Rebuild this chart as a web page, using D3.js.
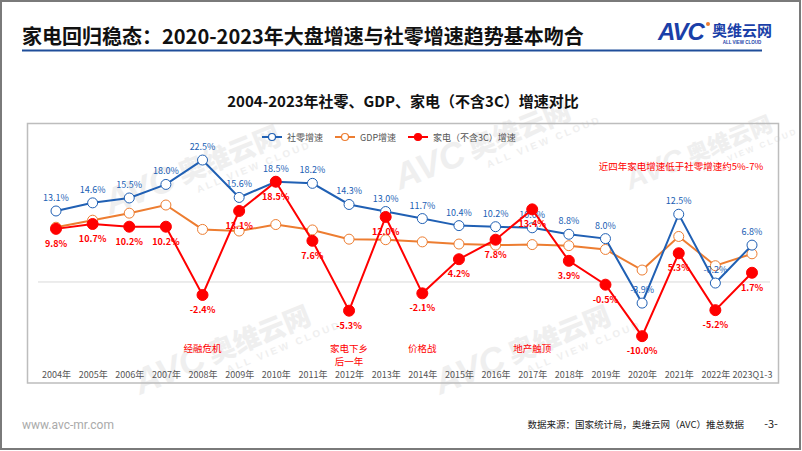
<!DOCTYPE html>
<html><head><meta charset="utf-8">
<script src="https://cdn.jsdelivr.net/npm/d3@7/dist/d3.min.js"></script>
<style>
html,body{margin:0;padding:0;background:#fff;}
svg{display:block;font-family:"Noto Sans CJK SC","Noto Sans",sans-serif;}
</style></head><body>
<svg id="c" width="802" height="451"></svg>
<script>
const categories = ["2004年","2005年","2006年","2007年","2008年","2009年","2010年","2011年","2012年","2013年","2014年","2015年","2016年","2017年","2018年","2019年","2020年","2021年","2022年","2023Q1-3"];
const retail = [13.1,14.6,15.5,18.0,22.5,15.6,18.5,18.2,14.3,13.0,11.7,10.4,10.2,10.0,8.8,8.0,-3.9,12.5,-0.2,6.8];
const gdp = [10.1,11.4,12.7,14.2,9.7,9.4,10.6,9.6,7.9,7.8,7.4,7.0,6.8,6.9,6.7,6.0,2.2,8.4,3.0,5.2];
const appliance = [9.8,10.7,10.2,10.2,-2.4,13.1,18.5,7.6,-5.3,12.0,-2.1,4.2,7.8,13.4,3.9,-0.5,-10.0,5.3,-5.2,1.7];
const seriesNames = ["社零增速","GDP增速","家电（不含3C）增速"];
const events = [["2008年",["经融危机"]],["2012年",["家电下乡","后一年"]],["2014年",["价格战"]],["2017年",["地产触顶"]]];

const BLUE="#2060b4", ORANGE="#ed7d31", RED="#ff0000";
const svg=d3.select("#c");

// page frame
svg.append("rect").attr("x",1).attr("y",1).attr("width",799).attr("height",448).attr("fill","none").attr("stroke","#7a7a7a").attr("stroke-width",2);

// watermarks (kept inside the page)
function wm(x,y,s){
  const g=svg.append("g").attr("transform",`translate(${x},${y}) rotate(-22) scale(${s})`).attr("fill","#efefef");
  g.append("text").attr("x",0).attr("y",0).attr("font-size",40).attr("font-weight","900").attr("font-style","italic").attr("font-family","Liberation Sans, sans-serif").text("AVC");
  g.append("text").attr("x",88).attr("y",-2).attr("font-size",30).attr("font-weight","900").text("奥维云网");
  g.append("text").attr("x",100).attr("y",14).attr("font-size",11).attr("font-weight","bold").attr("font-family","Liberation Sans, sans-serif").attr("letter-spacing",3).text("ALL VIEW CLOUD");
}
wm(110,215,0.9); wm(400,190,0.9); wm(140,395,0.9); wm(440,395,0.9); wm(630,190,0.75);

// header
svg.append("text").attr("x",22).attr("y",44).attr("font-size",20).attr("font-weight","bold").attr("fill","#111")
  .text("家电回归稳态：2020-2023年大盘增速与社零增速趋势基本吻合");
svg.append("line").attr("x1",22).attr("x2",762).attr("y1",50.5).attr("y2",50.5).attr("stroke","#1f4e9a").attr("stroke-width",2);
// logo
const lg=svg.append("g");
lg.append("text").attr("x",658).attr("y",40).attr("font-size",24).attr("font-weight","900").attr("font-style","italic").attr("fill","#1a3fa8").attr("font-family","Liberation Sans, sans-serif").attr("letter-spacing",-1).text("AVC");
lg.append("circle").attr("cx",708).attr("cy",24).attr("r",2).attr("fill",ORANGE);
lg.append("text").attr("x",712).attr("y",36).attr("font-size",15).attr("font-weight","bold").attr("fill","#1a3fa8").text("奥维云网");
lg.append("text").attr("x",742).attr("y",44).attr("font-size",4.5).attr("font-weight","bold").attr("fill","#1a3fa8").attr("text-anchor","middle").attr("font-family","Liberation Sans, sans-serif").text("ALL VIEW CLOUD");

// panel
svg.append("rect").attr("x",27.5).attr("y",123.5).attr("width",751).attr("height",259.5).attr("fill","none").attr("stroke","#bdbdbd").attr("stroke-width",1.5);
svg.append("text").attr("x",403).attr("y",107).attr("text-anchor","middle").attr("font-size",15).attr("font-weight","bold").attr("fill","#111")
  .text("2004-2023年社零、GDP、家电（不含3C）增速对比");

// scales
const x=d3.scalePoint().domain(categories).range([56,752]);
const y=d3.scaleLinear().domain([-12,25]).range([347,146.5]);

// zero line
svg.append("line").attr("x1",38).attr("x2",770).attr("y1",y(0)).attr("y2",y(0)).attr("stroke","#d9d9d9").attr("stroke-width",1);

// x axis
const ax=svg.append("g").attr("transform","translate(0,372)").call(d3.axisBottom(x).tickSize(0).tickPadding(0));
ax.select(".domain").remove();
ax.selectAll("text").attr("font-size",9).attr("fill","#555").attr("font-family","Noto Sans CJK SC, sans-serif");

// legend
const leg=[[262,BLUE,false],[335,ORANGE,false],[408,RED,true]];
leg.forEach((d,i)=>{
  const g=svg.append("g").attr("transform",`translate(${d[0]},137)`);
  g.append("line").attr("x1",0).attr("x2",20).attr("stroke",d[1]).attr("stroke-width",2);
  g.append("circle").attr("cx",10).attr("r",3.5).attr("fill",d[2]?d[1]:"#fff").attr("stroke",d[1]).attr("stroke-width",1.2);
  g.append("text").attr("x",25).attr("y",3.5).attr("font-size",9).attr("fill","#555").text(seriesNames[i]);
});

const line=d3.line().x((d,i)=>x(categories[i])).y(d=>y(d));
function drawLine(vals,color){
  svg.append("path").datum(vals).attr("d",line).attr("fill","none").attr("stroke",color).attr("stroke-width",2);
}
function drawMarkers(vals,color,filled,r){
  svg.append("g").selectAll("circle").data(vals).join("circle")
    .attr("cx",(d,i)=>x(categories[i])).attr("cy",d=>y(d)).attr("r",r)
    .attr("fill",filled?color:"#fff").attr("stroke",color).attr("stroke-width",1);
}
const fmt=d=>d.toFixed(1)+"%";

drawLine(gdp,ORANGE); drawMarkers(gdp,ORANGE,false,5);
drawLine(retail,BLUE); drawMarkers(retail,BLUE,false,5);
svg.append("g").selectAll("text").data(retail).join("text")
  .attr("x",(d,i)=>x(categories[i])).attr("y",d=>y(d)-10).attr("text-anchor","middle")
  .attr("font-size",9).attr("fill",BLUE).text(fmt);
drawLine(appliance,RED); drawMarkers(appliance,RED,true,5.5);
svg.append("g").selectAll("text").data(appliance).join("text")
  .attr("x",(d,i)=>x(categories[i])).attr("y",d=>y(d)+18).attr("text-anchor","middle")
  .attr("font-size",9).attr("font-weight","bold").attr("fill",RED).text(fmt);

// event annotations
events.forEach(e=>{
  e[1].forEach((t,j)=>{
    svg.append("text").attr("x",x(e[0])).attr("y",352+j*13).attr("text-anchor","middle").attr("font-size",9.5).attr("fill",RED).text(t);
  });
});
svg.append("text").attr("x",681).attr("y",170).attr("text-anchor","middle").attr("font-size",9.5).attr("fill",RED).text("近四年家电增速低于社零增速约5%-7%");

// footer
svg.append("text").attr("x",22).attr("y",429).attr("font-size",12).attr("fill","#aaa").attr("font-family","Roboto, sans-serif").text("www.avc-mr.com");
svg.append("text").attr("x",744).attr("y",428).attr("text-anchor","end").attr("font-size",9.5).attr("fill","#222").text("数据来源：国家统计局，奥维云网（AVC）推总数据");
svg.append("text").attr("x",771).attr("y",428).attr("text-anchor","middle").attr("font-size",11).attr("fill","#222").text("-3-");
</script>
</body></html>
